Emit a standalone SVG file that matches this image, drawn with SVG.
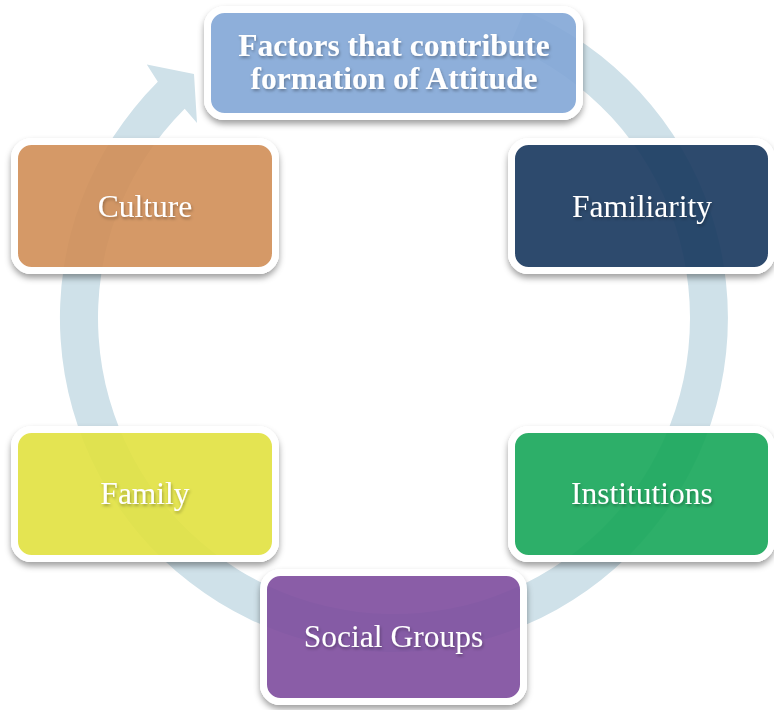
<svg xmlns="http://www.w3.org/2000/svg" width="774" height="710" viewBox="0 0 774 710">
  <defs>
    <!-- soft drop shadow kept outside the box shape -->
    <filter id="boxShadow" x="-10%" y="-15%" width="120%" height="140%">
      <feGaussianBlur in="SourceAlpha" stdDeviation="3" result="blur"/>
      <feOffset in="blur" dy="4" result="off"/>
      <feFlood flood-color="#000" flood-opacity="0.38"/>
      <feComposite in2="off" operator="in" result="shadow"/>
      <feComposite in="shadow" in2="SourceAlpha" operator="out" result="outer"/>
      <feMerge>
        <feMergeNode in="outer"/>
        <feMergeNode in="SourceGraphic"/>
      </feMerge>
    </filter>
    <filter id="textShadow" x="-10%" y="-30%" width="120%" height="160%">
      <feDropShadow dx="1" dy="2" stdDeviation="1.5" flood-color="#000" flood-opacity="0.3"/>
    </filter>
  </defs>
  <style>
    .box { stroke: #ffffff; stroke-width: 7; fill-opacity: 0.9; filter: url(#boxShadow); }
    .label { font-family: "Liberation Serif", "Times New Roman", serif; font-size: 31.5px; fill: #ffffff; text-anchor: middle; filter: url(#textShadow); }
    .title { font-weight: bold; }
    .ring { fill: #cfe1e9; }
  </style>

  <!-- circular arrow running clockwise behind the boxes -->
  <g id="connectors">
    <path class="ring" d="M 524.5 10.6 A 334 334 0 1 1 157.8 81.8 L 146.8 64.6 L 194 74 L 197 123 L 184.7 108.7 A 296 296 0 1 0 509.6 45.5 Z"/>
  </g>

  <g id="node-title">
    <rect class="box" x="207.5" y="9.5" width="372" height="107" rx="17" fill="#83a7d7"/>
    <text class="label title" x="394" y="56">Factors that contribute</text>
    <text class="label title" x="394" y="89">formation of Attitude</text>
  </g>

  <g id="node-culture">
    <rect class="box" x="14.5" y="141.5" width="261" height="129" rx="17" fill="#d18f58"/>
    <text class="label" x="145" y="217">Culture</text>
  </g>

  <g id="node-familiarity">
    <rect class="box" x="511.5" y="141.5" width="260" height="129" rx="17" fill="#1b395e"/>
    <text class="label" x="642" y="217">Familiarity</text>
  </g>

  <g id="node-family">
    <rect class="box" x="14.5" y="429.5" width="261" height="129" rx="17" fill="#e2e240"/>
    <text class="label" x="145" y="504">Family</text>
  </g>

  <g id="node-institutions">
    <rect class="box" x="511.5" y="429.5" width="260" height="129" rx="17" fill="#17a759"/>
    <text class="label" x="642" y="504">Institutions</text>
  </g>

  <g id="node-social-groups">
    <rect class="box" x="263.5" y="572.5" width="260" height="129" rx="17" fill="#7e4d9e"/>
    <text class="label" x="393.5" y="647">Social Groups</text>
  </g>
</svg>
